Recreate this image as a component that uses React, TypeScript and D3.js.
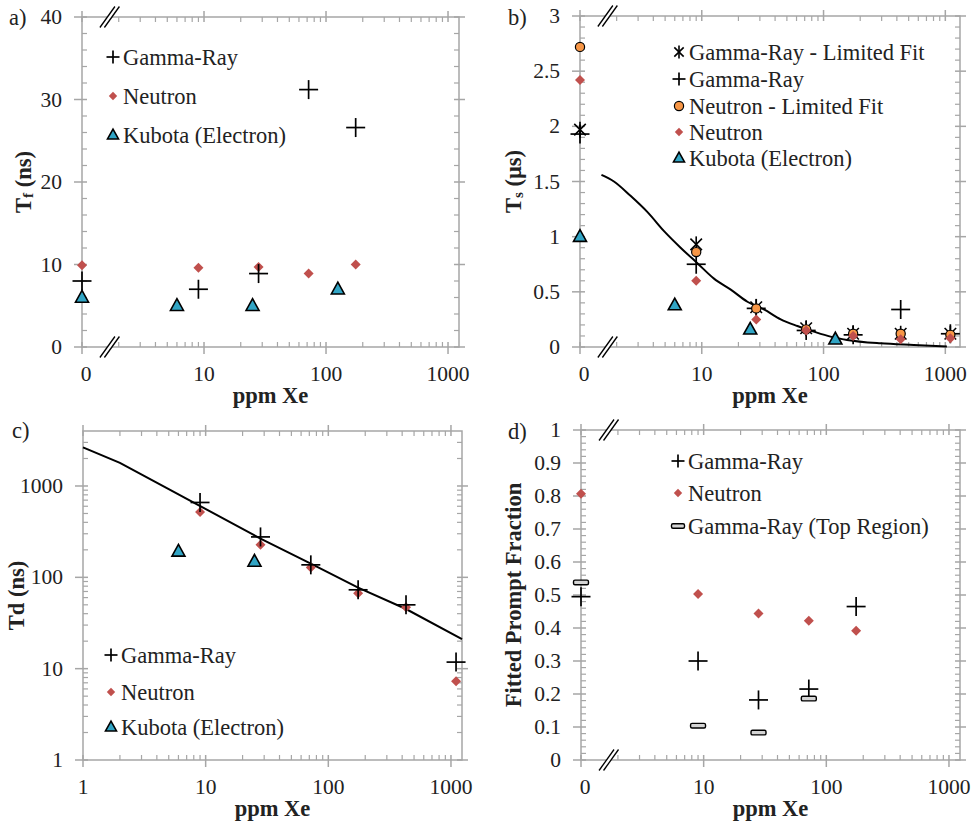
import React from 'react';
import * as d3 from 'd3';

const FONT = "'Liberation Serif', 'DejaVu Serif', serif";
const AXIS = '#a6a6a6';
const RED = '#c0504d';
const TEAL = '#31a5c5';
const ORANGE = '#f79646';
const DASHFILL = '#d4d4d4';

// ---------- Panel a) Tf ----------
const aGammaX = [0, 9, 28, 72, 175];
const aGammaY = [8.0, 7.0, 8.9, 31.2, 26.6];
const aNeutronX = [0, 9, 28, 72, 175];
const aNeutronY = [9.9, 9.6, 9.7, 8.9, 10.0];
const aKubotaX = [0, 6, 25, 125];
const aKubotaY = [6.0, 5.0, 5.0, 7.0];

// ---------- Panel b) Ts ----------
const bX = [0, 9, 28, 72, 175, 430, 1100];
const bGammaLimY = [1.97, 0.93, 0.36, 0.17, 0.12, 0.12, 0.12];
const bGammaY = [1.93, 0.75, 0.35, 0.15, 0.11, 0.34, 0.12];
const bNeutronLimY = [2.72, 0.86, 0.35, 0.16, 0.12, 0.12, 0.11];
const bNeutronY = [2.42, 0.6, 0.25, 0.15, 0.1, 0.07, 0.08];
const bKubotaX = [0, 6, 25, 125];
const bKubotaY = [1.0, 0.38, 0.16, 0.07];
const bCurveX = [1.5, 1.9, 2.6, 3.6, 4.9, 6.7, 9.2, 12.6, 17.3, 23.7, 32.4, 44.5, 61, 83, 114, 156, 293, 550, 1030];
const bCurveY = [1.56, 1.5, 1.37, 1.22, 1.05, 0.9, 0.76, 0.62, 0.52, 0.41, 0.34, 0.25, 0.19, 0.14, 0.094, 0.064, 0.033, 0.018, 0.005];

// ---------- Panel c) Td ----------
const cGammaX = [9, 28, 72, 175, 430, 1100];
const cGammaY = [660, 277, 137, 73, 50, 11.8];
const cNeutronX = [9, 28, 72, 175, 430, 1100];
const cNeutronY = [519, 227, 128, 67, 47, 7.3];
const cKubotaX = [6, 25];
const cKubotaY = [192, 149];
const cLineX = [1, 2, 5, 8.5, 28, 72, 175, 430, 1230];
const cLineY = [2650, 1790, 925, 630, 265, 141, 77, 45, 21];

// ---------- Panel d) Prompt fraction ----------
const dGammaX = [0, 9, 28, 72, 175];
const dGammaY = [0.495, 0.3, 0.182, 0.215, 0.465];
const dNeutronX = [0, 9, 28, 72, 175];
const dNeutronY = [0.807, 0.503, 0.444, 0.422, 0.392];
const dTopX = [0, 9, 28, 72];
const dTopY = [0.538, 0.104, 0.083, 0.186];

const xTickValues = [1, 10, 100, 1000];

type MType = 'plus' | 'diamond' | 'triangle' | 'circle' | 'asterisk' | 'dash';

function Marker({ type, x, y, legend }: { type: MType; x: number; y: number; legend?: boolean }) {
  if (type === 'plus') {
    const h = legend ? 6.5 : 9.5;
    return (
      <g stroke="#000" strokeWidth={1.7}>
        <line x1={x - h} x2={x + h} y1={y} y2={y} />
        <line x1={x} x2={x} y1={y - h} y2={y + h} />
      </g>
    );
  }
  if (type === 'diamond') {
    const r = legend ? 4.2 : 5;
    return <path d={`M${x},${y - r}L${x + r},${y}L${x},${y + r}L${x - r},${y}Z`} fill={RED} />;
  }
  if (type === 'triangle') {
    const w = legend ? 11 : 13;
    const hh = w * 0.9;
    return (
      <path
        d={`M${x},${y - hh * 0.6}L${x + w / 2},${y + hh * 0.4}L${x - w / 2},${y + hh * 0.4}Z`}
        fill={TEAL}
        stroke="#000"
        strokeWidth={1.6}
      />
    );
  }
  if (type === 'circle') {
    return <circle cx={x} cy={y} r={4.6} fill={ORANGE} stroke="#000" strokeWidth={1.2} />;
  }
  if (type === 'asterisk') {
    const h = legend ? 6.5 : 8;
    const d = h * 0.72;
    return (
      <g stroke="#000" strokeWidth={1.6}>
        <line x1={x} x2={x} y1={y - h} y2={y + h} />
        <line x1={x - d} x2={x + d} y1={y - d} y2={y + d} />
        <line x1={x - d} x2={x + d} y1={y + d} y2={y - d} />
      </g>
    );
  }
  const w = legend ? 13 : 15;
  return <rect x={x - w / 2} y={y - 2.3} width={w} height={4.6} rx={1.5} fill={DASHFILL} stroke="#000" strokeWidth={1.4} />;
}

type Series = { type: MType; xs: number[]; ys: number[] };
type LegendItem = { type: MType; label: string };

type PanelProps = {
  l: number; t: number; r: number; b: number;
  xMax: number;
  firstLabel: string;
  broken: boolean;
  yLog: boolean;
  yMax: number;
  yMajor?: number;
  yMinor?: number;
  yTitle: React.ReactNode;
  yTitleX: number;
  tag: string;
  tagX: number;
  tagY: number;
  series: Series[];
  lineXs?: number[];
  lineYs?: number[];
  smooth?: boolean;
  legendX: number;
  legendYs: number[];
  legend: LegendItem[];
};

function fmt(v: number) {
  return String(+v.toFixed(3));
}

function Panel(p: PanelProps) {
  const x = d3.scaleLog().domain([1, p.xMax]).range([p.l, p.r]);
  const y = p.yLog
    ? d3.scaleLog().domain([1, p.yMax]).range([p.b, p.t])
    : d3.scaleLinear().domain([0, p.yMax]).range([p.b, p.t]);
  const px = (v: number) => x(v === 0 ? 1 : v);

  const xMinor: number[] = [];
  for (let e = 0; e < 4; e++) {
    for (let k = 2; k <= 9; k++) {
      const v = k * Math.pow(10, e);
      if (v < p.xMax) xMinor.push(v);
    }
  }

  let yMajorVals: number[] = [];
  let yMinorVals: number[] = [];
  if (p.yLog) {
    for (let e = 0; Math.pow(10, e) <= p.yMax; e++) {
      yMajorVals.push(Math.pow(10, e));
      for (let k = 2; k <= 9; k++) {
        const v = k * Math.pow(10, e);
        if (v < p.yMax) yMinorVals.push(v);
      }
    }
  } else {
    const n = Math.round(p.yMax / (p.yMajor as number));
    yMajorVals = d3.range(0, n + 1).map((i) => +(i * (p.yMajor as number)).toFixed(4));
    const m = Math.round(p.yMax / (p.yMinor as number));
    yMinorVals = d3
      .range(0, m + 1)
      .map((i) => +(i * (p.yMinor as number)).toFixed(4))
      .filter((v) => !yMajorVals.some((mv) => Math.abs(mv - v) < 1e-6));
  }

  const lineGen = d3
    .line<number>()
    .x((_, i) => x(p.lineXs![i]))
    .y((v) => y(v))
    .curve(p.smooth ? d3.curveMonotoneX : d3.curveLinear);

  const bx = x(1.6);
  const breakMark = (yy: number, key: string) => (
    <g key={key}>
      <path d={`M${bx - 7},${yy + 10.5}L${bx + 8},${yy - 10.5}L${bx + 12.5},${yy - 10.5}L${bx - 2.5},${yy + 10.5}Z`} fill="#fff" />
      <line x1={bx - 7} y1={yy + 10.5} x2={bx + 8} y2={yy - 10.5} stroke="#000" strokeWidth={1.3} />
      <line x1={bx - 2.5} y1={yy + 10.5} x2={bx + 12.5} y2={yy - 10.5} stroke="#000" strokeWidth={1.3} />
    </g>
  );

  return (
    <g style={{ fontFamily: FONT }}>
      <rect x={p.l} y={p.t} width={p.r - p.l} height={p.b - p.t} fill="none" stroke={AXIS} strokeWidth={1.5} />
      {xTickValues.map((v) => (
        <g key={'xM' + v} stroke={AXIS} strokeWidth={1.5}>
          <line x1={x(v)} x2={x(v)} y1={p.b - 5} y2={p.b + 7} />
          <line x1={x(v)} x2={x(v)} y1={p.t - 6} y2={p.t + 5} />
        </g>
      ))}
      {xMinor.map((v) => (
        <g key={'xm' + v} stroke={AXIS} strokeWidth={1.2}>
          <line x1={x(v)} x2={x(v)} y1={p.b - 5} y2={p.b} />
          <line x1={x(v)} x2={x(v)} y1={p.t} y2={p.t + 5} />
        </g>
      ))}
      {yMajorVals.map((v) => (
        <g key={'yM' + v} stroke={AXIS} strokeWidth={1.5}>
          <line x1={p.l - 8} x2={p.l + 5} y1={y(v)} y2={y(v)} />
          <line x1={p.r - 5} x2={p.r + 6} y1={y(v)} y2={y(v)} />
        </g>
      ))}
      {yMinorVals.map((v) => (
        <g key={'ym' + v} stroke={AXIS} strokeWidth={1.2}>
          <line x1={p.l} x2={p.l + 5} y1={y(v)} y2={y(v)} />
          <line x1={p.r - 5} x2={p.r} y1={y(v)} y2={y(v)} />
        </g>
      ))}
      {xTickValues.map((v, i) => (
        <text key={'xl' + v} x={x(v) + (i === 0 && p.broken ? 4 : 0)} y={p.b + 27} fontSize={21.5} textAnchor="middle" dominantBaseline="central" fill="#222">
          {i === 0 ? p.firstLabel : String(v)}
        </text>
      ))}
      {yMajorVals.map((v) => (
        <text key={'yl' + v} x={p.l - 20} y={y(v)} fontSize={21.5} textAnchor="end" dominantBaseline="central" fill="#222">
          {fmt(v)}
        </text>
      ))}
      <text x={(p.l + p.r) / 2} y={p.b + 48} fontSize={22.5} fontWeight="bold" textAnchor="middle" dominantBaseline="central" fill="#222">
        ppm Xe
      </text>
      <text
        transform={`translate(${p.yTitleX},${(p.t + p.b) / 2}) rotate(-90)`}
        fontSize={22.5}
        fontWeight="bold"
        textAnchor="middle"
        dominantBaseline="central"
        fill="#222"
      >
        {p.yTitle}
      </text>
      <text x={p.tagX} y={p.tagY} fontSize={22.5} dominantBaseline="central" fill="#222">
        {p.tag}
      </text>
      {p.broken && [breakMark(p.t, 'bt'), breakMark(p.b, 'bb')]}
      {p.lineXs && p.lineYs && (
        <path d={lineGen(p.lineYs) || ''} fill="none" stroke="#000" strokeWidth={2} />
      )}
      {p.series.map((s, si) =>
        s.xs.map((xv, i) => <Marker key={si + '-' + i} type={s.type} x={px(xv)} y={y(s.ys[i])} />)
      )}
      {p.legend.map((it, i) => (
        <g key={'lg' + i}>
          <Marker type={it.type} x={p.legendX} y={p.legendYs[i]} legend />
          <text x={p.legendX + 10} y={p.legendYs[i]} fontSize={22.5} dominantBaseline="central" fill="#222">
            {it.label}
          </text>
        </g>
      ))}
    </g>
  );
}

export default function App() {
  return (
    <svg width={974} height={822} style={{ position: 'absolute', left: 0, top: 0, background: '#fff' }}>
      <rect width={974} height={822} fill="#fff" />
      <Panel
        l={82} t={17} r={459} b={347}
        xMax={1230} firstLabel="0" broken
        yLog={false} yMax={40} yMajor={10} yMinor={2}
        yTitle={<>T<tspan dy={5} fontSize={15}>f</tspan><tspan dy={-5}> (ns)</tspan></>}
        yTitleX={23}
        tag="a)" tagX={9} tagY={17}
        series={[
          { type: 'diamond', xs: aNeutronX, ys: aNeutronY },
          { type: 'plus', xs: aGammaX, ys: aGammaY },
          { type: 'triangle', xs: aKubotaX, ys: aKubotaY },
        ]}
        legendX={113} legendYs={[57, 96, 135]}
        legend={[
          { type: 'plus', label: 'Gamma-Ray' },
          { type: 'diamond', label: 'Neutron' },
          { type: 'triangle', label: 'Kubota (Electron)' },
        ]}
      />
      <Panel
        l={580} t={16} r={960} b={347}
        xMax={1320} firstLabel="0" broken
        yLog={false} yMax={3} yMajor={0.5} yMinor={0.1}
        yTitle={<>T<tspan dy={5} fontSize={15}>s</tspan><tspan dy={-5}> (µs)</tspan></>}
        yTitleX={513}
        tag="b)" tagX={508} tagY={17}
        lineXs={bCurveX} lineYs={bCurveY} smooth
        series={[
          { type: 'asterisk', xs: bX, ys: bGammaLimY },
          { type: 'plus', xs: bX, ys: bGammaY },
          { type: 'circle', xs: bX, ys: bNeutronLimY },
          { type: 'diamond', xs: bX, ys: bNeutronY },
          { type: 'triangle', xs: bKubotaX, ys: bKubotaY },
        ]}
        legendX={679} legendYs={[52, 79, 106, 132, 158]}
        legend={[
          { type: 'asterisk', label: 'Gamma-Ray - Limited Fit' },
          { type: 'plus', label: 'Gamma-Ray' },
          { type: 'circle', label: 'Neutron - Limited Fit' },
          { type: 'diamond', label: 'Neutron' },
          { type: 'triangle', label: 'Kubota (Electron)' },
        ]}
      />
      <Panel
        l={83} t={431} r={462} b={760}
        xMax={1230} firstLabel="1" broken={false}
        yLog yMax={4000}
        yTitle={<>Td (ns)</>}
        yTitleX={16}
        tag="c)" tagX={12} tagY={430}
        lineXs={cLineX} lineYs={cLineY}
        series={[
          { type: 'diamond', xs: cNeutronX, ys: cNeutronY },
          { type: 'plus', xs: cGammaX, ys: cGammaY },
          { type: 'triangle', xs: cKubotaX, ys: cKubotaY },
        ]}
        legendX={111} legendYs={[655, 692, 727]}
        legend={[
          { type: 'plus', label: 'Gamma-Ray' },
          { type: 'diamond', label: 'Neutron' },
          { type: 'triangle', label: 'Kubota (Electron)' },
        ]}
      />
      <Panel
        l={581} t={430} r={960} b={760}
        xMax={1230} firstLabel="0" broken
        yLog={false} yMax={1} yMajor={0.1} yMinor={0.02}
        yTitle={<>Fitted Prompt Fraction</>}
        yTitleX={513}
        tag="d)" tagX={508} tagY={431}
        series={[
          { type: 'diamond', xs: dNeutronX, ys: dNeutronY },
          { type: 'plus', xs: dGammaX, ys: dGammaY },
          { type: 'dash', xs: dTopX, ys: dTopY },
        ]}
        legendX={678} legendYs={[461, 493, 526]}
        legend={[
          { type: 'plus', label: 'Gamma-Ray' },
          { type: 'diamond', label: 'Neutron' },
          { type: 'dash', label: 'Gamma-Ray (Top Region)' },
        ]}
      />
    </svg>
  );
}
